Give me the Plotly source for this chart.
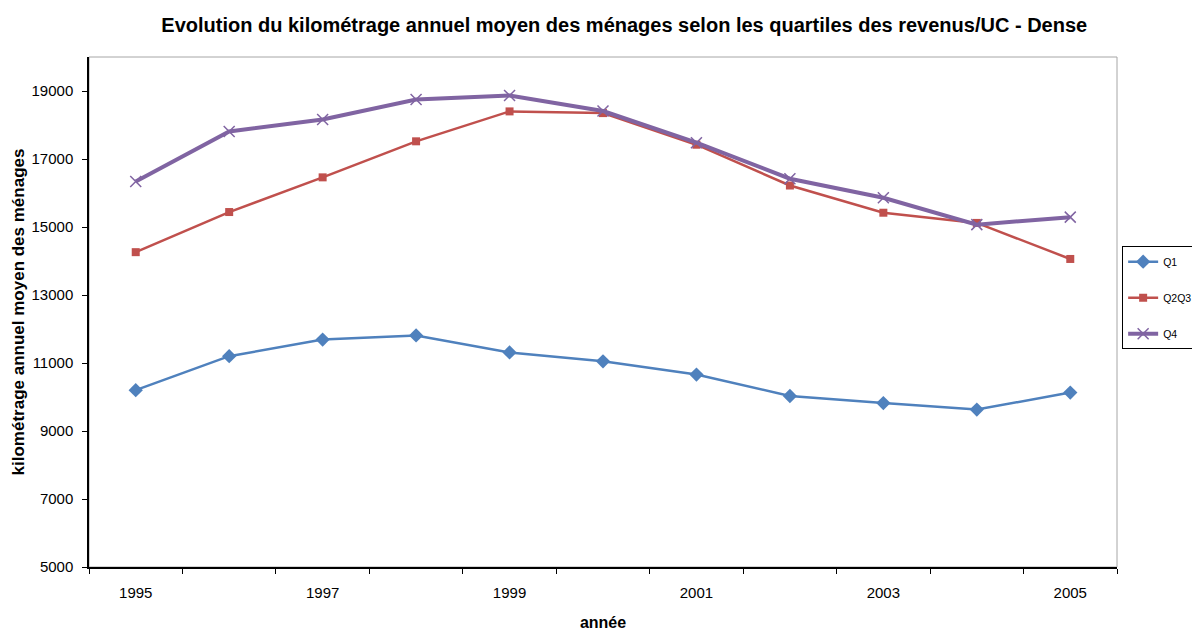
import plotly.graph_objects as go

annees = [1995, 1996, 1997, 1998, 1999, 2000, 2001, 2002, 2003, 2004, 2005]
q1 = [10200, 11200, 11690, 11810, 11310, 11050, 10660, 10030, 9820, 9630, 10130]
q2q3 = [14260, 15440, 16460, 17520, 18400, 18350, 17420, 16220, 15420, 15120, 14060]
q4 = [16340, 17810, 18160, 18750, 18870, 18410, 17480, 16420, 15860, 15070, 15290]
labels_x = [1995, 1997, 1999, 2001, 2003, 2005]
ticks_y = [5000, 7000, 9000, 11000, 13000, 15000, 17000, 19000]

police = "Arial, Liberation Sans, sans-serif"

fig = go.Figure()
fig.add_trace(go.Scatter(x=annees, y=q1, name="Q1", mode="lines+markers",
                         legendgroup="a",
                         line=dict(color="#4F81BD", width=2.5),
                         marker=dict(symbol="diamond", size=11, color="#4F81BD")))
fig.add_trace(go.Scatter(x=annees, y=q2q3, name="Q2Q3", mode="lines+markers",
                         legendgroup="b",
                         line=dict(color="#C0504D", width=2.5),
                         marker=dict(symbol="square", size=8, color="#C0504D")))
fig.add_trace(go.Scatter(x=annees, y=q4, name="Q4", mode="lines+markers",
                         legendgroup="c",
                         line=dict(color="#8064A2", width=4),
                         marker=dict(symbol="x-thin", size=11,
                                     line=dict(color="#8064A2", width=1.5))))

# cadre gris de la zone de tracé
fig.add_shape(type="rect", xref="paper", yref="paper", x0=0, x1=1, y0=0, y1=1,
              line=dict(color="#A6A6A6", width=1), layer="below")

# la page html garde une marge de 8px autour de la figure
fig.update_layout(
    width=1192, height=623,
    margin=dict(l=81, r=83, t=49, b=64, autoexpand=False),
    paper_bgcolor="white", plot_bgcolor="white",
    font=dict(family=police, size=15, color="black"),
    title=dict(text="<b>Evolution du kilométrage annuel moyen des ménages selon les quartiles des revenus/UC - Dense</b>",
               x=0.517, xanchor="center", y=0.973, yanchor="middle",
               font=dict(size=20)),
    legend=dict(x=1.005, xanchor="left", y=0.629, yanchor="top",
                bordercolor="black", borderwidth=1, bgcolor="white",
                font=dict(size=10.5), tracegroupgap=17, itemwidth=30),
    xaxis=dict(range=[1994.5, 2005.5], tickvals=labels_x, ticks="",
               ticklabelstandoff=11,
               showgrid=False, zeroline=False, showline=True,
               linecolor="black", linewidth=1.5, automargin=False,
               minor=dict(tick0=1994.5, dtick=1, ticks="outside",
                          ticklen=5, tickcolor="black", showgrid=False),
               title=dict(text="<b>année</b>", font=dict(size=16), standoff=17)),
    yaxis=dict(range=[5000, 20000], tickvals=ticks_y, tickformat="d",
               ticks="outside", ticklen=5, tickcolor="black", showgrid=False,
               ticklabelstandoff=6,
               zeroline=False, showline=True, linecolor="black", linewidth=1.5,
               automargin=False,
               title=dict(text="<b>kilométrage annuel moyen des ménages</b>",
                          font=dict(size=17), standoff=3)),
)

fig.write_html("out.html")
